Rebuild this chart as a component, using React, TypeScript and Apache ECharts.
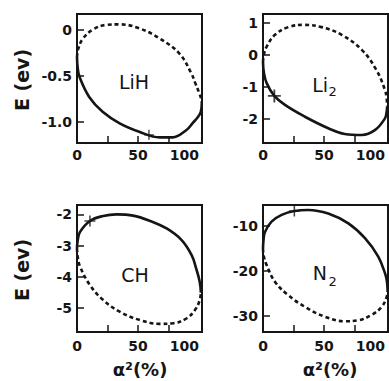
import React, { useEffect, useRef } from "react";
import * as echarts from "echarts";

// ---- Data (x = alpha^2 in %, y = E in eV) ----
const panelNames = ["LiH", "Li2", "CH", "N2"];

const lihSolid = [[0, -0.3], [0.5, -0.405], [2, -0.51], [10, -0.73], [21, -0.89], [35, -1.015], [51, -1.106], [67.6, -1.167], [78.5, -1.167], [89.5, -1.09], [95, -1.01], [99, -0.95], [101.5, -0.89], [102.3, -0.8]];
const lihDashed = [[0, -0.3], [1, -0.21], [4.8, -0.1], [13, 0.0], [24, 0.05], [35, 0.056], [51, 0.013], [67.6, -0.095], [84, -0.26], [93.6, -0.47], [97, -0.58], [100, -0.68], [101.8, -0.75], [102.3, -0.8]];
const lihMark = [[59, -1.14]];

const li2Solid = [[0, -0.22], [0.7, -0.54], [3, -0.88], [9.3, -1.28], [18, -1.56], [34.4, -1.93], [53.5, -2.29], [67, -2.47], [81, -2.5], [92, -2.34], [100, -1.98], [101.3, -1.8], [101.8, -1.6]];
const li2Dashed = [[0, -0.22], [0.7, 0.01], [3, 0.26], [9.8, 0.63], [20.8, 0.87], [34, 0.94], [48, 0.87], [64.5, 0.63], [81, 0.16], [93, -0.47], [100, -1.09], [101.3, -1.33], [101.8, -1.6]];
const li2Mark = [[9.3, -1.28]];

const chSolid = [[0, -3.08], [0.6, -2.83], [2.5, -2.56], [10.6, -2.21], [21.5, -2.05], [32.5, -2.0], [46, -2.04], [60, -2.21], [73.5, -2.45], [85.8, -2.82], [94, -3.3], [97.5, -3.7], [100.6, -4.15], [101.6, -4.5]];
const chDashed = [[0, -3.08], [0.6, -3.37], [2.5, -3.67], [10.6, -4.26], [21.5, -4.74], [35, -5.11], [51.6, -5.38], [68, -5.5], [79, -5.48], [90, -5.32], [96.7, -5.06], [100.6, -4.75], [101.6, -4.5]];
const chMark = [[10.6, -2.21]];

const n2Solid = [[0, -15], [0.4, -13.15], [1.6, -11.3], [7, -9.0], [15.3, -7.5], [25.7, -6.65], [37, -6.4], [53.5, -7.2], [70, -9.4], [83.6, -12.7], [94.5, -16.8], [100.5, -20.9], [101.7, -22.55], [102.2, -24.5]];
const n2Dashed = [[0, -15], [0.6, -16.65], [3, -18.7], [9.8, -22.4], [20.7, -25.4], [34.4, -28], [50.8, -30.2], [67, -31.2], [78, -31], [89, -29.8], [97.3, -28], [101.4, -25.8], [102.2, -24.5]];
const n2Mark = [[25.7, -6.65]];

const xRange = [0, 102.5];
const xTicks = [25, 50, 75];
const xLabels = [0, 50, 100];

const yRanges = [[-1.228, 0.168], [-2.75, 1.28], [-5.76, -1.7], [-33.6, -5.3]];
const yTickValues = [[0, -0.5, -1], [1, 0, -1, -2], [-2, -3, -4, -5], [-10, -20, -30]];
const yLabelTexts = [["0", "-0.5", "-1.0"], ["1", "0", "-1", "-2"], ["-2", "-3", "-4", "-5"], ["-10", "-20", "-30"]];

const solids = [lihSolid, li2Solid, chSolid, n2Solid];
const dashes = [lihDashed, li2Dashed, chDashed, n2Dashed];
const marks = [lihMark, li2Mark, chMark, n2Mark];
const markSizes = [10, 13, 11, 11];

const FONT = '"DejaVu Sans", sans-serif';
const INK = "#151515";
const PLUS = "path://M4.3,0H5.7V4.3H10V5.7H5.7V10H4.3V5.7H0V4.3H4.3Z";

const grids = [
  { left: 77, top: 14, width: 125, height: 129 },
  { left: 263, top: 14, width: 125, height: 129 },
  { left: 77, top: 205, width: 125, height: 127 },
  { left: 263, top: 205, width: 125, height: 127 },
];

export default function App() {
  const ref = useRef<HTMLDivElement>(null);
  useEffect(() => {
    if (!ref.current) return;
    const chart = echarts.init(ref.current, null, { renderer: "svg" });
    const labelStyle = { color: INK, fontFamily: FONT, fontSize: 14, fontWeight: "bold" as const };
    const option: any = {
      animation: false,
      backgroundColor: "#fff",
      grid: grids.map((g) => ({ ...g, show: true, borderColor: INK, borderWidth: 2, backgroundColor: "transparent" })),
      xAxis: grids.map((_, i) => ({
        type: "value",
        gridIndex: i,
        min: xRange[0],
        max: xRange[1],
        splitLine: { show: false },
        axisLine: { show: true, onZero: false, lineStyle: { color: INK, width: 2 } },
        axisTick: { show: true, inside: true, length: 7, customValues: xTicks, lineStyle: { color: INK, width: 1.5 } },
        axisLabel: {
          ...labelStyle,
          customValues: xLabels,
          margin: i < 2 ? 5 : 7,
          alignMaxLabel: "right",
          formatter: (v: number) => String(Math.round(v)),
        },
      })),
      yAxis: grids.map((_, i) => ({
        type: "value",
        gridIndex: i,
        min: yRanges[i][0],
        max: yRanges[i][1],
        splitLine: { show: false },
        axisLine: { show: true, onZero: false, lineStyle: { color: INK, width: 2 } },
        axisTick: { show: true, inside: true, length: 7, customValues: yTickValues[i], lineStyle: { color: INK, width: 1.5 } },
        axisLabel: {
          ...labelStyle,
          customValues: yTickValues[i],
          margin: 5,
          formatter: (v: number) => {
            const k = yTickValues[i].findIndex((t) => Math.abs(t - v) < 1e-6);
            return k >= 0 ? yLabelTexts[i][k] : String(v);
          },
        },
      })),
      series: grids.flatMap((_, i) => [
        {
          type: "line",
          name: panelNames[i] + " solid",
          xAxisIndex: i,
          yAxisIndex: i,
          data: solids[i],
          smooth: 0.4,
          showSymbol: false,
          symbol: "none",
          lineStyle: { color: INK, width: 2.6 },
        },
        {
          type: "line",
          name: panelNames[i] + " dashed",
          xAxisIndex: i,
          yAxisIndex: i,
          data: dashes[i],
          smooth: 0.4,
          showSymbol: false,
          symbol: "none",
          lineStyle: { color: INK, width: 2.6, type: [4, 3] },
        },
        {
          type: "scatter",
          name: panelNames[i] + " mark",
          xAxisIndex: i,
          yAxisIndex: i,
          data: marks[i],
          symbol: PLUS,
          symbolSize: markSizes[i],
          itemStyle: { color: INK },
        },
      ]),
      graphic: [
        { type: "text", x: 134, y: 82, style: { text: "LiH", font: `19px ${FONT}`, fill: INK, align: "center", verticalAlign: "middle" } },
        { type: "text", x: 328, y: 84.5, style: { text: "Li", font: `19px ${FONT}`, fill: INK, align: "right", verticalAlign: "middle" } },
        { type: "text", x: 328.5, y: 91, style: { text: "2", font: `13px ${FONT}`, fill: INK, align: "left", verticalAlign: "middle" } },
        { type: "text", x: 135, y: 275, style: { text: "CH", font: `19px ${FONT}`, fill: INK, align: "center", verticalAlign: "middle" } },
        { type: "text", x: 327, y: 272.5, style: { text: "N", font: `19px ${FONT}`, fill: INK, align: "right", verticalAlign: "middle" } },
        { type: "text", x: 328.5, y: 281, style: { text: "2", font: `13px ${FONT}`, fill: INK, align: "left", verticalAlign: "middle" } },
        { type: "text", x: 22, y: 80, rotation: Math.PI / 2, style: { text: "E (ev)", font: `bold 19px ${FONT}`, fill: INK, align: "center", verticalAlign: "middle" } },
        { type: "text", x: 22, y: 270, rotation: Math.PI / 2, style: { text: "E (ev)", font: `bold 19px ${FONT}`, fill: INK, align: "center", verticalAlign: "middle" } },
        { type: "text", x: 140, y: 369, style: { text: "α²(%)", font: `bold 18px ${FONT}`, fill: INK, align: "center", verticalAlign: "middle" } },
        { type: "text", x: 330, y: 369, style: { text: "α²(%)", font: `bold 18px ${FONT}`, fill: INK, align: "center", verticalAlign: "middle" } },
      ],
    };
    chart.setOption(option);
    return () => chart.dispose();
  }, []);
  return <div ref={ref} style={{ position: "absolute", left: 0, top: 0, width: 389, height: 381, background: "#fff" }} />;
}
